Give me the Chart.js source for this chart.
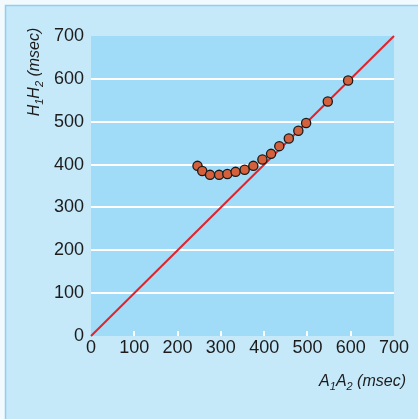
<!DOCTYPE html>
<html>
<head>
<meta charset="utf-8">
<script src="https://cdn.jsdelivr.net/npm/chart.js@4"></script>
<style>
  html, body { margin: 0; padding: 0; background: #ffffff; }
  #wrap { width: 418px; height: 419px; }
</style>
</head>
<body>
<div id="wrap"><canvas id="myChart" width="418" height="419"></canvas></div>
<script>
// A1A2 vs H1H2 coupling intervals (msec)
const a1a2 = [246, 257, 275, 296, 315, 334, 355, 375, 396, 416, 435, 457, 479, 497, 547, 594];
const h1h2 = [397, 385, 376, 376, 378, 383, 388, 397, 412, 425, 443, 461, 479, 497, 547, 596];
const identityLine = [0, 700];
const tickStep = 100;

const FONT = "'Liberation Sans Narrow', 'Arial Narrow', 'Liberation Sans', Arial, sans-serif";

document.addEventListener("DOMContentLoaded", function () {
    const ctx = document.getElementById("myChart").getContext("2d");

    // backgrounds, frame, inner ticks and the subscripted axis titles
    const decor = {
        id: "decor",
        beforeDraw(chart) {
            const c = chart.ctx;
            const a = chart.chartArea;
            c.save();
            c.fillStyle = "#f2fafe";
            c.fillRect(0, 0, chart.width, chart.height);
            c.fillStyle = "#c6e9fa";
            c.fillRect(5, 5, chart.width - 5, chart.height - 5);
            c.strokeStyle = "#8fd0ee";
            c.lineWidth = 1.5;
            c.beginPath();
            c.moveTo(5.5, chart.height);
            c.lineTo(5.5, 5.5);
            c.lineTo(chart.width, 5.5);
            c.stroke();
            c.fillStyle = "#a0dbf7";
            c.fillRect(a.left, a.top, a.right - a.left, a.bottom - a.top);
            c.restore();
        },
        afterDatasetsDraw(chart) {
            const c = chart.ctx;
            const a = chart.chartArea;
            const xs = chart.scales.x;
            c.save();
            c.strokeStyle = "#ffffff";
            c.lineWidth = 2;
            xs.ticks.forEach(function (t) {
                if (t.value <= 0 || t.value >= 700) return;
                const px = Math.round(xs.getPixelForValue(t.value));
                c.beginPath();
                c.moveTo(px, a.bottom);
                c.lineTo(px, a.bottom - 5);
                c.stroke();
            });
            c.restore();

            drawSubTitle(c, ["A", "1", "A", "2", " (msec)"], 406, 386, 0);
            drawSubTitle(c, ["H", "1", "H", "2", " (msec)"], 39, 72, -Math.PI / 2);
        },
    };

    function drawSubTitle(c, parts, x, y, rot) {
        const big = "italic 16px " + FONT;
        const small = "italic 11px " + FONT;
        c.save();
        c.fillStyle = "#1c1c1c";
        c.textBaseline = "alphabetic";
        c.textAlign = "left";
        let total = 0;
        parts.forEach(function (p, i) {
            const sub = i === 1 || i === 3;
            c.font = sub ? small : big;
            total += c.measureText(p).width;
        });
        c.translate(x, y);
        c.rotate(rot);
        // x title is right-aligned, y title centred
        let cx = rot === 0 ? -total : -total / 2;
        parts.forEach(function (p, i) {
            const sub = i === 1 || i === 3;
            c.font = sub ? small : big;
            c.fillText(p, cx, sub ? 4 : 0);
            cx += c.measureText(p).width;
        });
        c.restore();
    }

    const data = {
        datasets: [
            {
                type: "scatter",
                label: "H1H2",
                data: a1a2.map((v, i) => ({ x: v, y: h1h2[i] })),
                backgroundColor: "#d4613c",
                borderColor: "#1a1a1a",
                borderWidth: 1.3,
                pointRadius: 4.6,
                order: 0,
            },
            {
                type: "line",
                label: "identity",
                data: identityLine.map((v) => ({ x: v, y: v })),
                borderColor: "#e3232b",
                borderWidth: 2,
                pointRadius: 0,
                fill: false,
                clip: false,
                order: 1,
            },
        ],
    };

    const options = {
        responsive: false,
        animation: false,
        layout: { padding: { top: 36, right: 24, left: 0, bottom: 0 } },
        plugins: {
            legend: { display: false },
            tooltip: { enabled: false },
        },
        scales: {
            x: {
                type: "linear",
                min: 0,
                max: 700,
                afterFit: function (scale) { scale.height = 83; },
                ticks: {
                    stepSize: tickStep,
                    color: "#1c1c1c",
                    font: { family: FONT, size: 18 },
                    padding: 1,
                    maxRotation: 0,
                },
                grid: { display: false, drawTicks: false },
                border: { display: false },
            },
            y: {
                type: "linear",
                min: 0,
                max: 700,
                afterFit: function (scale) { scale.width = 91; },
                ticks: {
                    stepSize: tickStep,
                    color: "#1c1c1c",
                    font: { family: FONT, size: 18 },
                    padding: 7,
                },
                grid: {
                    drawTicks: false,
                    lineWidth: 2,
                    color: function (c) {
                        const v = c.tick ? c.tick.value : 0;
                        return v <= 0 || v >= 700 ? "rgba(0,0,0,0)" : "#ffffff";
                    },
                },
                border: { display: false },
            },
        },
    };

    new Chart(ctx, {
        type: "scatter",
        data: data,
        options: options,
        plugins: [decor],
    });
});
</script>
</body>
</html>
